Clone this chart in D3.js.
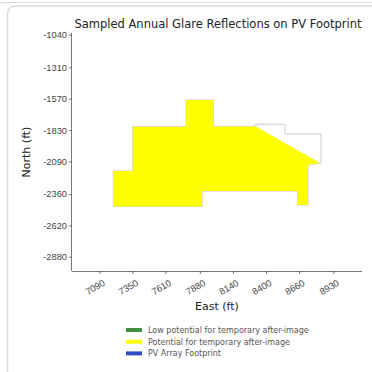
<!DOCTYPE html>
<html>
<head>
<meta charset="utf-8">
<script src="https://cdn.jsdelivr.net/npm/d3@7"></script>
<style>
  html, body { margin: 0; padding: 0; background: #fff; }
  svg { display: block; font-family: "DejaVu Sans", sans-serif; }
</style>
</head>
<body>
<svg id="chart" width="372" height="372"></svg>
<script>
// ---- data ----
const chartTitle = "Sampled Annual Glare Reflections on PV Footprint";
const xLabel = "East (ft)";
const yLabel = "North (ft)";
const eastTicks = [7090, 7350, 7610, 7880, 8140, 8400, 8660, 8930];
const northTicks = [-1040, -1310, -1570, -1830, -2090, -2360, -2620, -2880];
const eastDomain = [6875, 9155];
const northDomain = [-2998, -1026];

// Glare region (potential for temporary after-image) polygon
const glareEast  = [7200, 7353, 7353, 7772, 7772, 7986, 7986, 8320, 8825, 8731, 8731, 8647, 8647, 7898, 7898, 7200];
const glareNorth = [-2170, -2170, -1803, -1803, -1581, -1581, -1800, -1800, -2103, -2120, -2451, -2451, -2335, -2335, -2464, -2464];

// PV array footprint polygon
const footEast  = [7200, 7353, 7353, 7772, 7772, 7986, 7986, 8314, 8314, 8550, 8550, 8833, 8833, 8731, 8731, 8647, 8647, 7898, 7898, 7200];
const footNorth = [-2170, -2170, -1803, -1803, -1581, -1581, -1800, -1800, -1782, -1782, -1863, -1863, -2101, -2120, -2451, -2451, -2335, -2335, -2464, -2464];

const legendLabels = ["Low potential for temporary after-image", "Potential for temporary after-image", "PV Array Footprint"];
const legendColors = ["#3f8f3f", "#ffff00", "#2d4fc4"];

// ---- drawing ----
const svg = d3.select("#chart");

// card frames
svg.append("path")
  .attr("d", "M0,2.5 Q3,3 8,2.5 L372,2.5")
  .attr("fill", "none").attr("stroke", "#d8d8d8").attr("stroke-width", 1.2);
svg.append("path")
  .attr("d", "M7.5,380 L7.5,15 Q7.5,6 16,6 L380,6")
  .attr("fill", "none").attr("stroke", "#dadada").attr("stroke-width", 1.5);

const x = d3.scaleLinear().domain(eastDomain).range([72, 362]);
const y = d3.scaleLinear().domain(northDomain).range([271, 33]);

const line = d3.line().x(d => x(d[0])).y(d => y(d[1]));

const footPts = footEast.map((e, i) => [e, footNorth[i]]);
const glarePts = glareEast.map((e, i) => [e, glareNorth[i]]);

svg.append("path")
  .attr("d", line(footPts) + "Z")
  .attr("fill", "none")
  .attr("stroke", "#c8c8d4")
  .attr("stroke-width", 1);

svg.append("path")
  .attr("d", line(glarePts) + "Z")
  .attr("fill", "#ffff00")
  .attr("stroke", "none");

// axes
const xAxis = d3.axisBottom(x).tickValues(eastTicks).tickSize(3).tickFormat(d3.format("d"));
const gx = svg.append("g").attr("transform", "translate(0,271)").call(xAxis);
gx.select(".domain").attr("stroke", "#555").attr("stroke-width", 0.8).attr("d", "M72,0.5H362");
gx.selectAll(".tick line").attr("stroke", "#555").attr("stroke-width", 0.8);
gx.selectAll(".tick text")
  .attr("fill", "#444")
  .attr("font-size", 9.3)
  .attr("text-anchor", "middle")
  .attr("y", 0).attr("dy", 0)
  .attr("transform", "translate(-3,19) rotate(-30)");

const yAxis = d3.axisLeft(y).tickValues(northTicks).tickSize(3).tickFormat(d3.format("d"));
const gy = svg.append("g").attr("transform", "translate(72,0)").call(yAxis);
gy.select(".domain").attr("stroke", "#555").attr("stroke-width", 0.8).attr("d", "M-0.5,33V271");
gy.selectAll(".tick line").attr("stroke", "#555").attr("stroke-width", 0.8);
gy.selectAll(".tick text")
  .attr("fill", "#444")
  .attr("font-size", 9.3)
  .attr("x", -5)
  .text(d => d3.format("d")(d).replace("\u2212", "-"));

// title & labels
svg.append("text")
  .attr("x", 218).attr("y", 28)
  .attr("text-anchor", "middle")
  .attr("font-size", 11.5)
  .attr("fill", "#222")
  .text(chartTitle);

svg.append("text")
  .attr("x", 217).attr("y", 310)
  .attr("text-anchor", "middle")
  .attr("font-size", 11)
  .attr("fill", "#222")
  .text(xLabel);

svg.append("text")
  .attr("transform", "translate(30,152) rotate(-90)")
  .attr("text-anchor", "middle")
  .attr("font-size", 11)
  .attr("fill", "#222")
  .text(yLabel);

// legend
const lg = svg.append("g");
legendLabels.forEach((lab, i) => {
  const cy = 330 + i * 11.7;
  lg.append("rect")
    .attr("x", 126).attr("y", cy - 2).attr("width", 16).attr("height", 4)
    .attr("fill", legendColors[i]);
  lg.append("text")
    .attr("x", 148).attr("y", cy + 2.8)
    .attr("font-size", 8)
    .attr("fill", "#555")
    .text(lab);
});
</script>
</body>
</html>
